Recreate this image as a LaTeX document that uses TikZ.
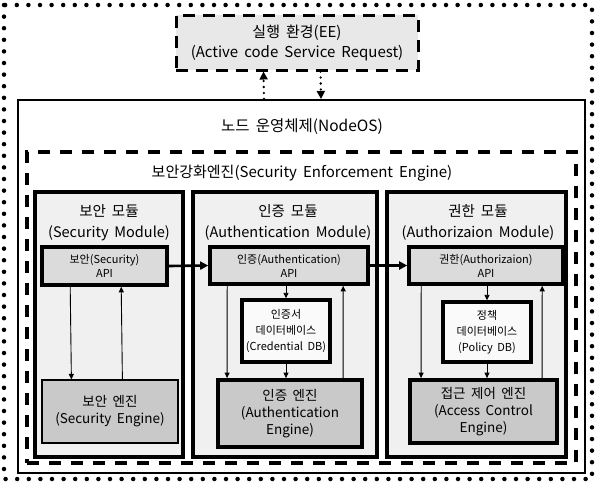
\documentclass[tikz,border=0pt]{standalone}
\usepackage{fontspec}
\setmainfont{Noto Sans CJK KR}[WordSpace=1.8]
\usetikzlibrary{arrows.meta}
\begin{document}
\begin{tikzpicture}[x=1pt,y=-1pt,
  box/.style={draw=black, rectangle, inner sep=0pt, align=center},
  modbox/.style={box, line width=3.6pt, fill=gray!12},
  apibox/.style={box, line width=3.6pt, fill=gray!28, font=\fontsize{11}{14}\selectfont},
  dbbox/.style={box, line width=3.4pt, fill=gray!4, font=\fontsize{11}{16}\selectfont},
  engbox/.style={box, line width=3.8pt, fill=gray!42, font=\fontsize{13.5}{17}\selectfont},
  title/.style={inner sep=0pt, align=center, font=\fontsize{14.5}{21}\selectfont},
  thin/.style={line width=0.9pt, -{Triangle[length=5.5pt,width=5pt]}},
  thick/.style={line width=2.6pt, -{Triangle[length=8pt,width=8pt]}},
  dotarrow/.style={line width=2.6pt, line cap=round, dash pattern=on 0pt off 6pt, -{Triangle[length=8pt,width=8pt]}}
]
\useasboundingbox (0,0) rectangle (596,483);
\fill[white] (0,0) rectangle (596,483);

% outer dotted frame
\draw[line width=4.5pt, line cap=round, dash pattern=on 0pt off 11.6pt] (4,5) rectangle (592,479);

% execution environment
\node[box, line width=3pt, dash pattern=on 12pt off 8pt, fill=gray!18,
  minimum width=242pt, minimum height=55pt] (ee) at (297,42.5) {};
\node[title, font=\fontsize{15}{20}\selectfont] (eetxt) at (297,43) {실행 환경(EE)\\(Active code Service Request)};

% NodeOS
\node[box, line width=2pt, fill=white, minimum width=567pt, minimum height=373pt] (nodeos) at (301.5,286.5) {};
\node[title, font=\fontsize{15.5}{20}\selectfont] (nodeostxt) at (302,127) {노드 운영체제(NodeOS)};

% Security Enforcement Engine
\node[box, line width=3.5pt, dash pattern=on 12pt off 10pt, minimum width=549pt, minimum height=311pt] (see) at (301.5,307.5) {};
\node[title, font=\fontsize{15}{20}\selectfont] (seetxt) at (302,173) {보안강화엔진(Security Enforcement Engine)};

% modules
\node[modbox, minimum width=148pt, minimum height=265pt] (secmod) at (109,324.5) {};
\node[modbox, minimum width=184pt, minimum height=265pt] (authmod) at (285,324.5) {};
\node[modbox, minimum width=179pt, minimum height=265pt] (authzmod) at (476.5,324.5) {};

\node[title] (sectitle) at (109,222.5) {보안 모듈\\(Security Module)};
\node[title] (authtitle) at (288,222.5) {인증 모듈\\(Authentication Module)};
\node[title] (authztitle) at (478,222.5) {권한 모듈\\(Authorizaion Module)};

% APIs
\node[apibox, minimum width=125pt, minimum height=38pt] (secapi) at (104.5,266) {보안(Security)\\API};
\node[apibox, minimum width=158pt, minimum height=37pt] (authapi) at (289,265.5) {인증(Authentication)\\API};
\node[apibox, minimum width=154pt, minimum height=37pt] (authzapi) at (486,265.5) {권한(Authorizaion)\\API};

% DBs
\node[dbbox, minimum width=88pt, minimum height=62pt] (creddb) at (286,331) {인증서\\데이터베이스\\(Credential DB)};
\node[dbbox, minimum width=88pt, minimum height=60pt] (poldb) at (487,332) {정책\\데이터베이스\\(Policy DB)};

% engines
\node[engbox, line width=1.2pt, minimum width=136pt, minimum height=63pt] (seceng) at (110,411.5) {보안 엔진\\(Security Engine)};
\node[engbox, minimum width=144pt, minimum height=67pt] (autheng) at (290,413.5) {인증 엔진\\(Authentication\\Engine)};
\node[engbox, minimum width=147pt, minimum height=63pt] (aceng) at (483.5,411.5) {접근 제어 엔진\\(Access Control\\Engine)};

% arrows between APIs
\draw[thick] (secapi.east) -- (authapi.west);
\draw[thick] (authapi.east) -- (authzapi.west);

% security module arrows
\draw[thin] ([xshift=30pt]secapi.south west) -- ([xshift=30pt]seceng.north west);
\draw[thin] ([xshift=81pt]seceng.north west) -- ([xshift=81pt]secapi.south west);

% authentication module arrows
\draw[thin] ([xshift=19pt]authapi.south west) -- ([xshift=11pt]autheng.north west);
\draw[thin] (authapi.south -| creddb) -- (creddb.north);
\draw[thin] (creddb.south) -- (autheng.north -| creddb);
\draw[thin] ([xshift=127pt]autheng.north west) -- ([xshift=135pt]authapi.south west);

% authorization module arrows
\draw[thin] ([xshift=14pt]authzapi.south west) -- ([xshift=13pt]aceng.north west);
\draw[thin] (authzapi.south -| poldb) -- (poldb.north);
\draw[thin] (poldb.south) -- (aceng.north -| poldb);
\draw[thin] ([xshift=134pt]aceng.north west) -- ([xshift=135pt]authzapi.south west);

% EE <-> NodeOS
\draw[dotarrow] ([xshift=247pt]nodeos.north west) -- ([xshift=89pt]ee.south west);
\draw[dotarrow] ([xshift=146pt]ee.south west) -- ([xshift=304pt]nodeos.north west);
\end{tikzpicture}
\end{document}
